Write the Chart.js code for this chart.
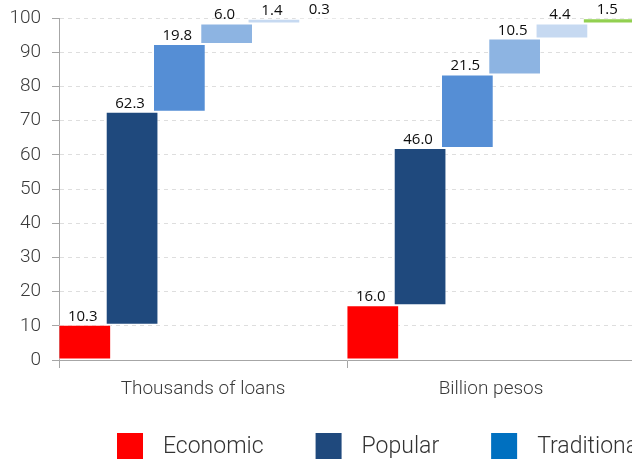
<!DOCTYPE html>
<html>
<head>
<meta charset="utf-8">
<script src="https://cdn.jsdelivr.net/npm/chart.js@4"></script>
<style>
  html, body { margin: 0; padding: 0; background: #fff; width: 632px; height: 461px; overflow: hidden; }
  #wrap { position: relative; width: 636px; height: 461px; }
</style>
</head>
<body>
<div id="wrap"><canvas id="c"></canvas></div>
<script>
// Housing segments and their shares in each measure
const categories = ['Thousands of loans', 'Billion pesos'];
const segments = ['Economic', 'Popular', 'Traditional', 'Medium', 'Residential', 'Residential Plus'];
const economic = [10.3, 16.0];
const popular = [62.3, 46.0];
const traditional = [19.8, 21.5];
const medium = [6.0, 10.5];
const residential = [1.4, 4.4];
const residentialPlus = [0.3, 1.5];
const yTicks = [0, 10, 20, 30, 40, 50, 60, 70, 80, 90, 100];

const barColors = ['#FF0000', '#1F497D', '#558ED5', '#8DB4E2', '#C6D9F1', '#92D050'];
const legendColors = ['#FF0000', '#1F497D', '#0070C0', '#8DB4E2', '#C6D9F1', '#92D050'];

const seriesValues = [economic, popular, traditional, medium, residential, residentialPlus];

// Waterfall: each segment floats on top of the running total of the previous ones
const running = categories.map(() => 0);
const datasets = seriesValues.map((vals, i) => {
  const data = vals.map((v, c) => {
    const start = running[c];
    running[c] = start + v;
    return [start, start + v];
  });
  return {
    label: segments[i],
    data,
    values: vals,
    backgroundColor: barColors[i],
    borderColor: 'rgba(255,255,255,0.55)',
    borderWidth: 1,
    borderSkipped: false,
    categoryPercentage: 0.985,
    barPercentage: 1.115
  };
});

const valueLabels = {
  id: 'valueLabels',
  afterDatasetsDraw(chart) {
    const ctx = chart.ctx;
    ctx.save();
    ctx.font = '15px "Open Sans", sans-serif';
    ctx.fillStyle = '#0d0d0d';
    ctx.textAlign = 'center';
    ctx.textBaseline = 'alphabetic';
    chart.data.datasets.forEach((ds, di) => {
      chart.getDatasetMeta(di).data.forEach((bar, i) => {
        const top = Math.min(bar.y, bar.base);
        ctx.fillText(ds.values[i].toFixed(1), bar.x - 2, top - 4);
      });
    });
    ctx.restore();
  }
};

const segmentLegend = {
  id: 'segmentLegend',
  afterDraw(chart) {
    const ctx = chart.ctx;
    ctx.save();
    ctx.font = '300 23px Roboto, sans-serif';
    ctx.textAlign = 'left';
    ctx.textBaseline = 'middle';
    const box = 26, gap = 20, spacing = 52, cy = 446;
    let x = 117;
    chart.data.datasets.forEach((ds, i) => {
      ctx.fillStyle = legendColors[i];
      ctx.fillRect(x, cy - box / 2, box, box);
      ctx.fillStyle = '#333';
      ctx.fillText(ds.label, x + box + gap, cy + 1);
      x += box + gap + ctx.measureText(ds.label).width + spacing;
    });
    ctx.restore();
  }
};

new Chart(document.getElementById('c'), {
  type: 'bar',
  data: { labels: categories, datasets },
  plugins: [valueLabels, segmentLegend],
  options: {
    responsive: true,
    maintainAspectRatio: false,
    animation: false,
    events: [],
    layout: { padding: { top: 18, right: 1, bottom: 51, left: 0 } },
    plugins: { legend: { display: false }, tooltip: { enabled: false } },
    scales: {
      x: {
        grid: { offset: true, drawOnChartArea: false, color: '#a6a6a6', tickLength: 8 },
        border: { color: '#a6a6a6', width: 1 },
        ticks: { color: '#3a3a3a', font: { family: 'Roboto', size: 19, weight: '300' }, padding: 10, maxRotation: 0 },
        afterFit(scale) { scale.height = 50; scale.paddingLeft = 0; scale.paddingRight = 0; }
      },
      y: {
        min: 0,
        max: 100,
        afterBuildTicks(scale) { scale.ticks = yTicks.map(v => ({ value: v })); },
        grid: { color: '#dedede', tickColor: '#a6a6a6', tickLength: 7, tickBorderDash: [] },
        border: { color: '#a6a6a6', width: 1, dash: [4, 4] },
        ticks: { color: '#3a3a3a', font: { family: 'Roboto', size: 19, weight: '300' }, padding: 11 },
        afterFit(scale) { scale.width = 59; scale.paddingTop = 0; scale.paddingBottom = 0; }
      }
    }
  }
});
</script>
</body>
</html>
